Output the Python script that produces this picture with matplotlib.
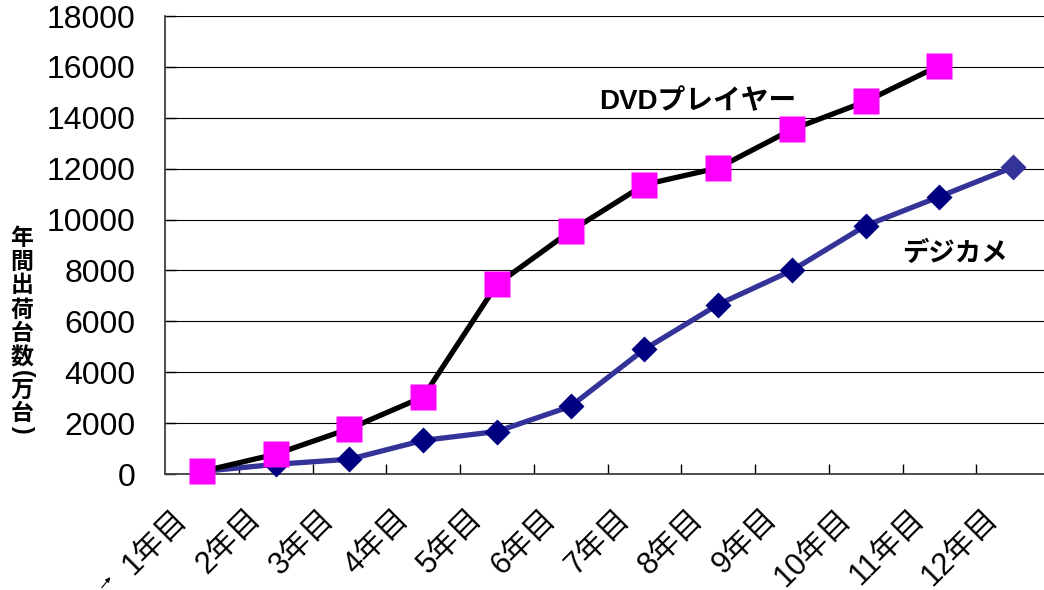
import matplotlib
matplotlib.use("Agg")
import matplotlib.pyplot as plt
import matplotlib.transforms as mtransforms

# data (万台)
years = ["1年目", "2年目", "3年目", "4年目", "5年目", "6年目",
         "7年目", "8年目", "9年目", "10年目", "11年目", "12年目"]
dvd = [100, 780, 1780, 3030, 7450, 9550, 11370, 12030, 13540, 14640, 16050]
dsc = [100, 380, 580, 1320, 1670, 2660, 4900, 6660, 8000, 9760, 10900, 12060]
y_ticks = list(range(0, 18001, 2000))
ylabel = "年間出荷台数(万台)"

plt.rcParams["font.family"] = ["Liberation Sans", "Noto Sans CJK JP"]

W, H = 1044, 590
fig = plt.figure(figsize=(W / 100, H / 100), dpi=100)
ax = fig.add_axes([165 / W, 116 / H, 885 / W, 458 / H])

x_dsc = list(range(len(dsc)))
x_dvd = list(range(len(dvd)))

ax.plot(x_dsc, dsc, color="#333399", lw=3.8, marker="D", ms=13.5,
        mfc="#000080", mec="none", markevery=list(range(len(dsc) - 1)),
        zorder=3, clip_on=False)
ax.plot(x_dsc[-1:], dsc[-1:], ls="none", marker="D", ms=13.5,
        mfc="#333399", mec="none", zorder=3, clip_on=False)
ax.plot(x_dvd, dvd, color="black", lw=3.8, marker="s", ms=19,
        mfc="#ff00ff", mec="none", zorder=4, clip_on=False)

ax.set_xlim(-0.5, len(years) - 0.5)
ax.set_ylim(0, 18000)
ax.set_yticks(y_ticks)
ax.set_yticklabels([str(v) for v in y_ticks])
ax.yaxis.grid(True, color="black", lw=0.8)
ax.set_axisbelow(True)

ax.set_xticks(range(len(years)))
ax.set_xticklabels(years)
ax.set_xticks([i + 0.5 for i in range(len(years))], minor=True)

for side in ("top", "right"):
    ax.spines[side].set_visible(False)
for side in ("left", "bottom"):
    ax.spines[side].set_color("#404040")
    ax.spines[side].set_linewidth(1.3)

ax.tick_params(axis="y", direction="in", length=8, width=1, pad=21,
               labelsize=23, colors="black")
ax.tick_params(axis="x", which="major", length=0, pad=29, labelsize=22)
ax.tick_params(axis="x", which="minor", direction="in", length=7, width=1)

shift = mtransforms.ScaledTranslation(-0.19, 0, fig.dpi_scale_trans)
for lab in ax.get_xticklabels():
    lab.set_rotation(45)
    lab.set_ha("right")
    lab.set_va("center")
    lab.set_rotation_mode("anchor")
    lab.set_transform(lab.get_transform() + shift)

ax.text(5.39, 14600, "DVDプレイヤー", ha="left", va="center",
        fontsize=20, fontweight="bold")
ax.text(9.49, 8660, "デジカメ", ha="left", va="center",
        fontsize=19, fontweight="bold")

# vertical y-axis title, stacked one character per row;
# brackets are turned sideways and take less height
y = 238
prev_small = False
for i, ch in enumerate(ylabel):
    small = ch in "()"
    if i > 0:
        y += 16 if (small or prev_small) else 24
    fig.text(22 / W, 1 - y / H, ch, ha="center", va="center",
             fontsize=16.5, fontweight="bold", rotation=-90 if small else 0)
    prev_small = small

# small arrow left of the first category label
ax.annotate("", xy=(112, 15), xytext=(100, 0), xycoords="figure pixels",
            textcoords="figure pixels",
            arrowprops=dict(arrowstyle="-|>", color="black", lw=0.8,
                            mutation_scale=7))

fig.savefig("out.png", dpi=100)
